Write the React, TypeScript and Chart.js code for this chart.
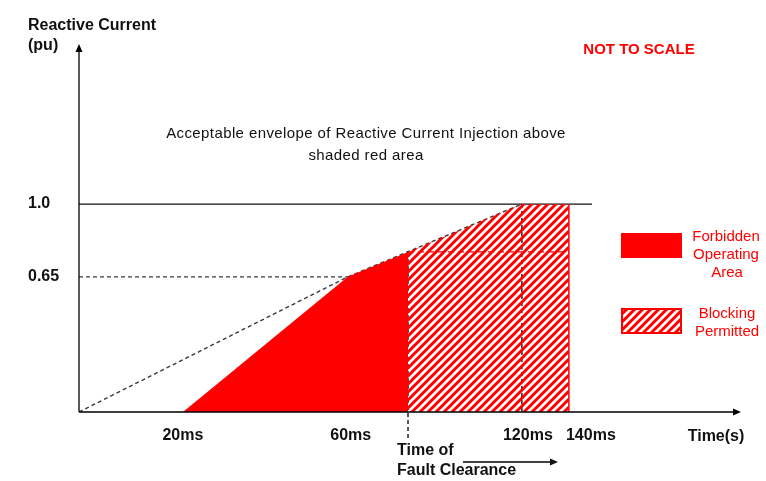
import { useEffect, useRef } from 'react';
import { Chart, registerables } from 'chart.js';

Chart.register(...registerables);

// Schematic (not to scale) horizontal positions, 0..100 across the time axis
const timeLabels = ['20ms', '60ms', '120ms', '140ms'];
const timePos = [15.7, 40.6, 66.9, 74.0];
const faultPos = 49.7;
const faultLevel = 0.77;
const levelLabels = ['1.0', '0.65'];
const levelValues = [1.0, 0.65];
const oneLineEnd = 77.5;
const xMax = 100;
const yMax = 1.77;
const faultLineBottom = -0.14;

// label nudges (px) relative to the tick position
const labelNudge = [0, 3, 6, 22];

const RED = '#ff0000';
const DASH_COLOR = '#3a3a3a';
const FONT = '"Liberation Sans", Arial, sans-serif';

function makeHatch(): CanvasPattern | string {
  const c = document.createElement('canvas');
  c.width = 8;
  c.height = 8;
  const g = c.getContext('2d');
  if (!g) return RED;
  g.strokeStyle = RED;
  g.lineWidth = 3;
  g.beginPath();
  g.moveTo(-2, 10);
  g.lineTo(10, -2);
  g.moveTo(-2, 2);
  g.lineTo(2, -2);
  g.moveTo(6, 10);
  g.lineTo(10, 6);
  g.stroke();
  return g.createPattern(c, 'repeat') || RED;
}

function arrowHead(ctx: CanvasRenderingContext2D, x: number, y: number, dir: 'up' | 'right') {
  ctx.beginPath();
  if (dir === 'up') {
    ctx.moveTo(x, y);
    ctx.lineTo(x - 3.5, y + 8);
    ctx.lineTo(x + 3.5, y + 8);
  } else {
    ctx.moveTo(x, y);
    ctx.lineTo(x - 8, y - 3.5);
    ctx.lineTo(x - 8, y + 3.5);
  }
  ctx.closePath();
  ctx.fill();
}

export default function App() {
  const ref = useRef<HTMLCanvasElement>(null);

  useEffect(() => {
    document.body.style.margin = '0';
    const canvas = ref.current;
    if (!canvas) return;
    const hatch = makeHatch();

    const dashed = (data: { x: number; y: number }[], color = DASH_COLOR, dash = [4, 3], extra: any = {}) => ({
      type: 'line' as const,
      data,
      borderColor: color,
      borderWidth: 1.4,
      borderDash: dash,
      pointRadius: 0,
      fill: false,
      tension: 0,
      ...extra,
    });

    const annotations = {
      id: 'schematic',
      afterDatasetsDraw(chart: any) {
        const ctx: CanvasRenderingContext2D = chart.ctx;
        const xs = chart.scales.x;
        const ys = chart.scales.y;
        const x0 = xs.getPixelForValue(0);
        const y0 = ys.getPixelForValue(0);
        const xEnd = xs.getPixelForValue(xMax);
        const yTop = ys.getPixelForValue(yMax);
        ctx.save();
        // axes
        ctx.strokeStyle = '#000';
        ctx.fillStyle = '#000';
        ctx.lineWidth = 1.3;
        ctx.beginPath();
        ctx.moveTo(x0, y0);
        ctx.lineTo(x0, yTop + 6);
        ctx.moveTo(x0, y0);
        ctx.lineTo(xEnd - 6, y0);
        ctx.stroke();
        arrowHead(ctx, x0, yTop, 'up');
        arrowHead(ctx, xEnd, y0, 'right');

        // texts
        ctx.textBaseline = 'middle';
        ctx.fillStyle = '#111';
        ctx.font = `bold 16px ${FONT}`;
        ctx.textAlign = 'left';
        ctx.fillText('Reactive Current', 28, 26);
        ctx.fillText('(pu)', 28, 46);
        levelLabels.forEach((l, i) => {
          ctx.fillText(l, 28, ys.getPixelForValue(levelValues[i]));
        });
        ctx.textAlign = 'center';
        timeLabels.forEach((l, i) => {
          ctx.fillText(l, xs.getPixelForValue(timePos[i]) + labelNudge[i], 436);
        });
        ctx.fillText('Time(s)', 716, 437);
        ctx.textAlign = 'left';
        const fx = xs.getPixelForValue(faultPos) - 11;
        ctx.fillText('Time of', fx, 451);
        ctx.fillText('Fault Clearance', fx, 471);
        // fault clearance arrow
        ctx.lineWidth = 1.3;
        ctx.beginPath();
        ctx.moveTo(463, 462);
        ctx.lineTo(552, 462);
        ctx.stroke();
        arrowHead(ctx, 558, 462, 'right');

        ctx.fillStyle = RED;
        ctx.textAlign = 'center';
        ctx.font = `bold 15px ${FONT}`;
        ctx.fillText('NOT TO SCALE', 639, 50);

        ctx.fillStyle = '#111';
        ctx.font = `15px ${FONT}`;
        (ctx as any).letterSpacing = '0.4px';
        ctx.fillText('Acceptable envelope of Reactive Current Injection above', 366, 134);
        ctx.fillText('shaded red area', 366, 156);
        (ctx as any).letterSpacing = '0px';

        // legend
        ctx.fillStyle = RED;
        ctx.fillRect(621, 233, 61, 25);
        ctx.fillStyle = hatch as any;
        ctx.fillRect(622, 309, 59, 24);
        ctx.strokeStyle = RED;
        ctx.lineWidth = 2;
        ctx.strokeRect(622, 309, 59, 24);
        ctx.fillStyle = RED;
        ctx.font = `15px ${FONT}`;
        ctx.textAlign = 'center';
        ctx.fillText('Forbidden', 726, 237);
        ctx.fillText('Operating', 726, 255);
        ctx.fillText('Area', 727, 273);
        ctx.fillText('Blocking', 727, 314);
        ctx.fillText('Permitted', 727, 332);
        ctx.restore();
      },
    };

    const chart = new Chart(canvas, {
      type: 'line',
      data: {
        datasets: [
          // Forbidden operating area (solid red)
          {
            data: [
              { x: timePos[0], y: 0 },
              { x: timePos[1], y: levelValues[1] },
              { x: faultPos, y: faultLevel },
            ],
            borderWidth: 0,
            borderColor: 'rgba(0,0,0,0)',
            backgroundColor: RED,
            fill: 'origin',
            pointRadius: 0,
            tension: 0,
          },
          // Blocking permitted (hatched)
          {
            data: [
              { x: faultPos, y: faultLevel },
              { x: timePos[2], y: levelValues[0] },
              { x: timePos[3], y: levelValues[0] },
            ],
            borderWidth: 0,
            borderColor: 'rgba(0,0,0,0)',
            backgroundColor: hatch as any,
            fill: 'origin',
            pointRadius: 0,
            tension: 0,
          },
          // right border of hatched area
          {
            data: [
              { x: timePos[3], y: levelValues[0] },
              { x: timePos[3], y: 0 },
            ],
            borderColor: RED,
            borderWidth: 1.5,
            pointRadius: 0,
            fill: false,
          },
          // red dashed at fault level
          dashed(
            [
              { x: faultPos, y: faultLevel },
              { x: timePos[3], y: faultLevel },
            ],
            RED,
            [6, 4],
          ),
          // solid 1.0 line
          {
            data: [
              { x: 0, y: levelValues[0] },
              { x: oneLineEnd, y: levelValues[0] },
            ],
            borderColor: '#111',
            borderWidth: 1.3,
            pointRadius: 0,
            fill: false,
          },
          // dashed envelope
          dashed([
            { x: 0, y: 0 },
            { x: timePos[1], y: levelValues[1] },
            { x: timePos[2], y: levelValues[0] },
          ]),
          // 0.65 horizontal
          dashed([
            { x: 0, y: levelValues[1] },
            { x: timePos[1], y: levelValues[1] },
          ]),
          // verticals
          dashed([
            { x: timePos[1], y: levelValues[1] },
            { x: timePos[1], y: 0 },
          ], '#111'),
          dashed(
            [
              { x: faultPos, y: faultLevel },
              { x: faultPos, y: faultLineBottom },
            ],
            '#111',
            [4, 3],
            { clip: false },
          ),
          dashed([
            { x: timePos[2], y: levelValues[0] },
            { x: timePos[2], y: 0 },
          ], '#111'),
        ] as any,
      },
      options: {
        animation: false,
        responsive: false,
        layout: { padding: { left: 79, right: 25, top: 44, bottom: 69 } },
        scales: {
          x: { type: 'linear', min: 0, max: xMax, display: false },
          y: { type: 'linear', min: 0, max: yMax, display: false },
        },
        plugins: { legend: { display: false }, tooltip: { enabled: false } },
        elements: { line: { borderCapStyle: 'butt' } },
      },
      plugins: [annotations],
    });
    return () => chart.destroy();
  }, []);

  return <canvas ref={ref} width={766} height={481} style={{ display: 'block' }} />;
}
